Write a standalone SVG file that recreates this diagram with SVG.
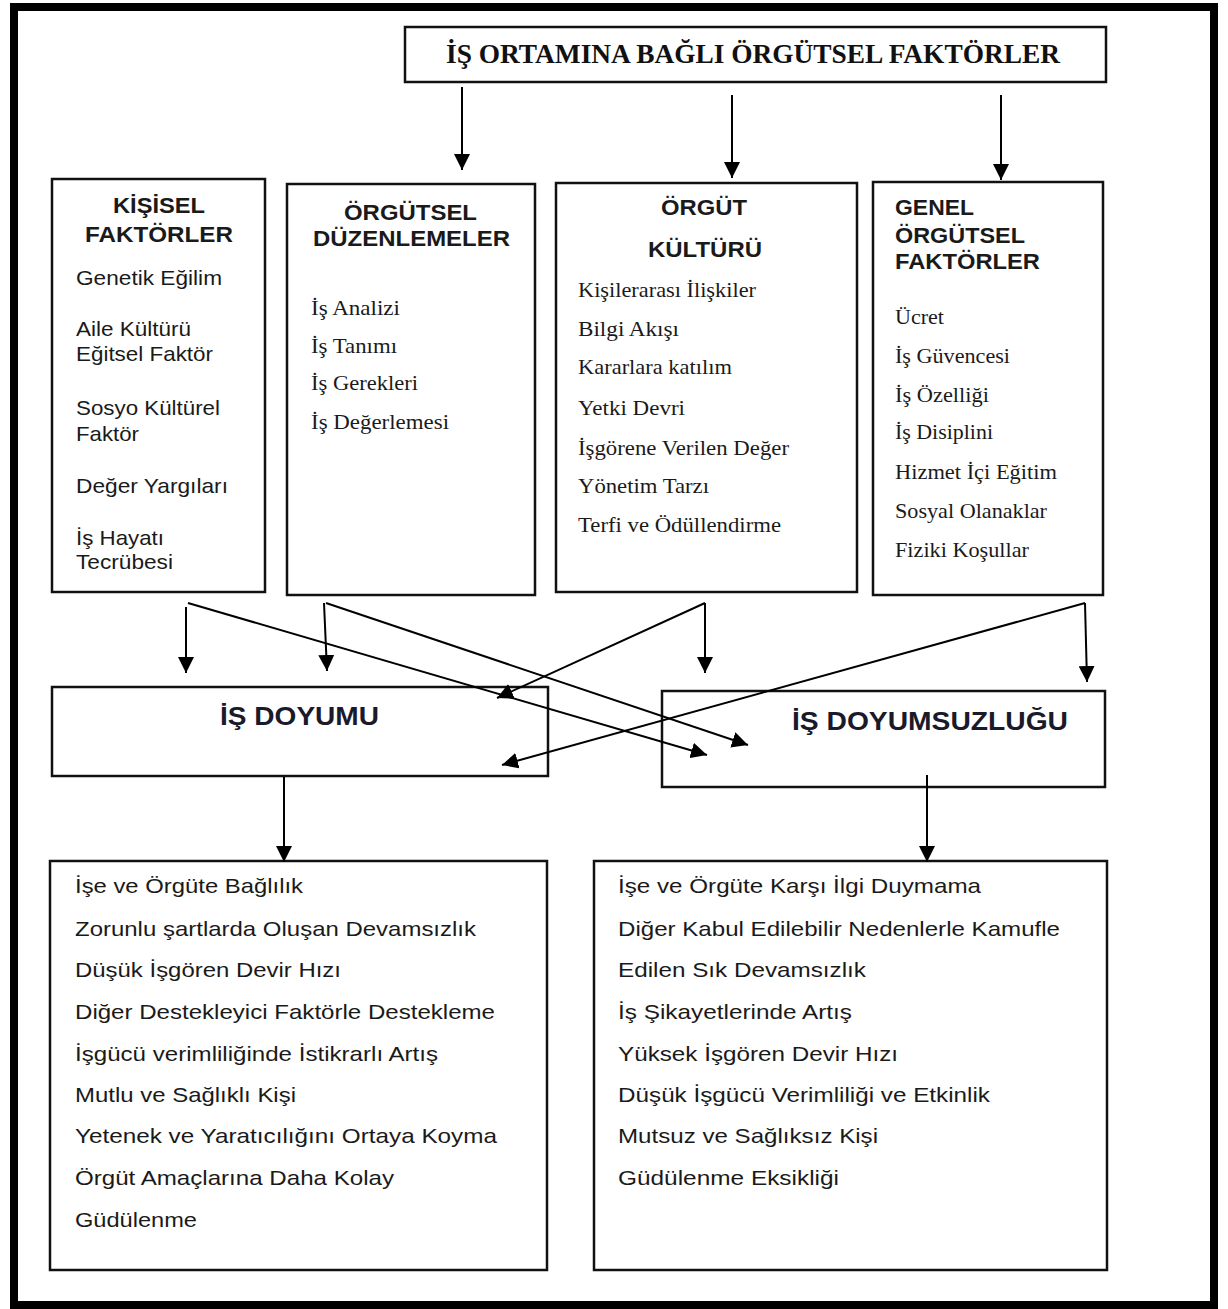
<svg xmlns="http://www.w3.org/2000/svg" width="1228" height="1309" viewBox="0 0 1228 1309">
<style>
.box{fill:#fff;stroke:#111;stroke-width:2.5}
.frame{fill:#fff;stroke:#000;stroke-width:8}
.hd{font-family:"Liberation Sans",Arial,sans-serif;font-weight:bold;font-size:22px;fill:#1a1a1a}
.sn{font-family:"Liberation Sans",Arial,sans-serif;font-size:21px;fill:#1a1a1a}
.sf{font-family:"Liberation Serif","Times New Roman",serif;font-size:22px;fill:#1a1a1a}
.tt{font-family:"Liberation Serif","Times New Roman",serif;font-weight:bold;font-size:28px;fill:#111}
.big{font-family:"Liberation Sans",Arial,sans-serif;font-weight:bold;font-size:25px;fill:#1a1a2a}
.c{fill:none;stroke:#000;stroke-width:2;marker-end:url(#ah)}
</style>
<defs>
<marker id="ah" viewBox="0 0 16 16" refX="16" refY="8" markerWidth="16" markerHeight="16" markerUnits="userSpaceOnUse" orient="auto">
<path d="M0,0 L16,8 L0,16 z" fill="#000"/>
</marker>
</defs>
<rect class="frame" x="14" y="7" width="1200" height="1298"/>

<g id="title">
<rect class="box" x="405" y="27" width="701" height="55"/>
<text class="tt" x="446" y="63" textLength="614" lengthAdjust="spacingAndGlyphs">İŞ ORTAMINA BAĞLI ÖRGÜTSEL FAKTÖRLER</text>
</g>

<g id="kisisel">
<rect class="box" x="52" y="179" width="213" height="413"/>
<text class="hd" x="113" y="213" textLength="92" lengthAdjust="spacingAndGlyphs">KİŞİSEL</text>
<text class="hd" x="85" y="242" textLength="148" lengthAdjust="spacingAndGlyphs">FAKTÖRLER</text>
<text class="sn" x="76" y="285" textLength="146" lengthAdjust="spacingAndGlyphs">Genetik Eğilim</text>
<text class="sn" x="76" y="336" textLength="115" lengthAdjust="spacingAndGlyphs">Aile Kültürü</text>
<text class="sn" x="76" y="361" textLength="137" lengthAdjust="spacingAndGlyphs">Eğitsel Faktör</text>
<text class="sn" x="76" y="415" textLength="144" lengthAdjust="spacingAndGlyphs">Sosyo Kültürel</text>
<text class="sn" x="76" y="441" textLength="63" lengthAdjust="spacingAndGlyphs">Faktör</text>
<text class="sn" x="76" y="493" textLength="152" lengthAdjust="spacingAndGlyphs">Değer Yargıları</text>
<text class="sn" x="76" y="545" textLength="88" lengthAdjust="spacingAndGlyphs">İş Hayatı</text>
<text class="sn" x="76" y="569" textLength="97" lengthAdjust="spacingAndGlyphs">Tecrübesi</text>
</g>

<g id="orgutsel-duzenlemeler">
<rect class="box" x="287" y="184" width="248" height="411"/>
<text class="hd" x="344" y="220" textLength="133" lengthAdjust="spacingAndGlyphs">ÖRGÜTSEL</text>
<text class="hd" x="313" y="246" textLength="197" lengthAdjust="spacingAndGlyphs">DÜZENLEMELER</text>
<text class="sf" x="311" y="315" textLength="89" lengthAdjust="spacingAndGlyphs">İş Analizi</text>
<text class="sf" x="311" y="353" textLength="86" lengthAdjust="spacingAndGlyphs">İş Tanımı</text>
<text class="sf" x="311" y="390" textLength="107" lengthAdjust="spacingAndGlyphs">İş Gerekleri</text>
<text class="sf" x="311" y="429" textLength="138" lengthAdjust="spacingAndGlyphs">İş Değerlemesi</text>
</g>

<g id="orgut-kulturu">
<rect class="box" x="556" y="183" width="301" height="409"/>
<text class="hd" x="661" y="215" textLength="86" lengthAdjust="spacingAndGlyphs">ÖRGÜT</text>
<text class="hd" x="648" y="257" textLength="114" lengthAdjust="spacingAndGlyphs">KÜLTÜRÜ</text>
<text class="sf" x="578" y="297" textLength="178" lengthAdjust="spacingAndGlyphs">Kişilerarası İlişkiler</text>
<text class="sf" x="578" y="336" textLength="101" lengthAdjust="spacingAndGlyphs">Bilgi Akışı</text>
<text class="sf" x="578" y="374" textLength="154" lengthAdjust="spacingAndGlyphs">Kararlara katılım</text>
<text class="sf" x="578" y="415" textLength="107" lengthAdjust="spacingAndGlyphs">Yetki Devri</text>
<text class="sf" x="578" y="455" textLength="211" lengthAdjust="spacingAndGlyphs">İşgörene Verilen Değer</text>
<text class="sf" x="578" y="493" textLength="131" lengthAdjust="spacingAndGlyphs">Yönetim Tarzı</text>
<text class="sf" x="578" y="532" textLength="203" lengthAdjust="spacingAndGlyphs">Terfi ve Ödüllendirme</text>
</g>

<g id="genel">
<rect class="box" x="873" y="182" width="230" height="413"/>
<text class="hd" x="895" y="215" textLength="79" lengthAdjust="spacingAndGlyphs">GENEL</text>
<text class="hd" x="895" y="243" textLength="130" lengthAdjust="spacingAndGlyphs">ÖRGÜTSEL</text>
<text class="hd" x="895" y="269" textLength="145" lengthAdjust="spacingAndGlyphs">FAKTÖRLER</text>
<text class="sf" x="895" y="324" textLength="49" lengthAdjust="spacingAndGlyphs">Ücret</text>
<text class="sf" x="895" y="363" textLength="115" lengthAdjust="spacingAndGlyphs">İş Güvencesi</text>
<text class="sf" x="895" y="402" textLength="94" lengthAdjust="spacingAndGlyphs">İş Özelliği</text>
<text class="sf" x="895" y="439" textLength="98" lengthAdjust="spacingAndGlyphs">İş Disiplini</text>
<text class="sf" x="895" y="479" textLength="162" lengthAdjust="spacingAndGlyphs">Hizmet İçi Eğitim</text>
<text class="sf" x="895" y="518" textLength="152" lengthAdjust="spacingAndGlyphs">Sosyal Olanaklar</text>
<text class="sf" x="895" y="557" textLength="134" lengthAdjust="spacingAndGlyphs">Fiziki Koşullar</text>
</g>

<g id="is-doyumu">
<rect class="box" x="52" y="687" width="496" height="89"/>
<text class="big" x="220" y="725" textLength="159" lengthAdjust="spacingAndGlyphs">İŞ DOYUMU</text>
</g>

<g id="is-doyumsuzlugu">
<rect class="box" x="662" y="691" width="443" height="96"/>
<text class="big" x="792" y="730" textLength="276" lengthAdjust="spacingAndGlyphs">İŞ DOYUMSUZLUĞU</text>
</g>

<g id="doyum-sonuclari">
<rect class="box" x="50" y="861" width="497" height="409"/>
<text class="sn" x="75" y="893" textLength="228" lengthAdjust="spacingAndGlyphs">İşe ve Örgüte Bağlılık</text>
<text class="sn" x="75" y="936" textLength="401" lengthAdjust="spacingAndGlyphs">Zorunlu şartlarda Oluşan Devamsızlık</text>
<text class="sn" x="75" y="977" textLength="266" lengthAdjust="spacingAndGlyphs">Düşük İşgören Devir Hızı</text>
<text class="sn" x="75" y="1019" textLength="420" lengthAdjust="spacingAndGlyphs">Diğer Destekleyici Faktörle Destekleme</text>
<text class="sn" x="75" y="1061" textLength="363" lengthAdjust="spacingAndGlyphs">İşgücü verimliliğinde İstikrarlı Artış</text>
<text class="sn" x="75" y="1102" textLength="221" lengthAdjust="spacingAndGlyphs">Mutlu ve Sağlıklı Kişi</text>
<text class="sn" x="75" y="1143" textLength="422" lengthAdjust="spacingAndGlyphs">Yetenek ve Yaratıcılığını Ortaya Koyma</text>
<text class="sn" x="75" y="1185" textLength="319" lengthAdjust="spacingAndGlyphs">Örgüt Amaçlarına Daha Kolay</text>
<text class="sn" x="75" y="1227" textLength="122" lengthAdjust="spacingAndGlyphs">Güdülenme</text>
</g>

<g id="doyumsuzluk-sonuclari">
<rect class="box" x="594" y="861" width="513" height="409"/>
<text class="sn" x="618" y="893" textLength="363" lengthAdjust="spacingAndGlyphs">İşe ve Örgüte Karşı İlgi Duymama</text>
<text class="sn" x="618" y="936" textLength="442" lengthAdjust="spacingAndGlyphs">Diğer Kabul Edilebilir Nedenlerle Kamufle</text>
<text class="sn" x="618" y="977" textLength="248" lengthAdjust="spacingAndGlyphs">Edilen Sık Devamsızlık</text>
<text class="sn" x="618" y="1019" textLength="234" lengthAdjust="spacingAndGlyphs">İş Şikayetlerinde Artış</text>
<text class="sn" x="618" y="1061" textLength="280" lengthAdjust="spacingAndGlyphs">Yüksek İşgören Devir Hızı</text>
<text class="sn" x="618" y="1102" textLength="372" lengthAdjust="spacingAndGlyphs">Düşük İşgücü Verimliliği ve Etkinlik</text>
<text class="sn" x="618" y="1143" textLength="260" lengthAdjust="spacingAndGlyphs">Mutsuz ve Sağlıksız Kişi</text>
<text class="sn" x="618" y="1185" textLength="221" lengthAdjust="spacingAndGlyphs">Güdülenme Eksikliği</text>
</g>

<g id="connectors">
<line class="c" x1="462" y1="87" x2="462" y2="170"/>
<line class="c" x1="732" y1="95" x2="732" y2="178"/>
<line class="c" x1="1001" y1="95" x2="1001" y2="180"/>
<line class="c" x1="186" y1="607" x2="186" y2="673"/>
<line class="c" x1="188" y1="603" x2="707" y2="755"/>
<line class="c" x1="324" y1="603" x2="327" y2="671"/>
<line class="c" x1="326" y1="603" x2="748" y2="745"/>
<line class="c" x1="705" y1="603" x2="497" y2="698"/>
<line class="c" x1="705" y1="603" x2="705" y2="673"/>
<line class="c" x1="1085" y1="603" x2="1087" y2="682"/>
<line class="c" x1="1085" y1="603" x2="502" y2="765"/>
<line class="c" x1="284" y1="777" x2="284" y2="862"/>
<line class="c" x1="927" y1="775" x2="927" y2="862"/>
</g>
</svg>
